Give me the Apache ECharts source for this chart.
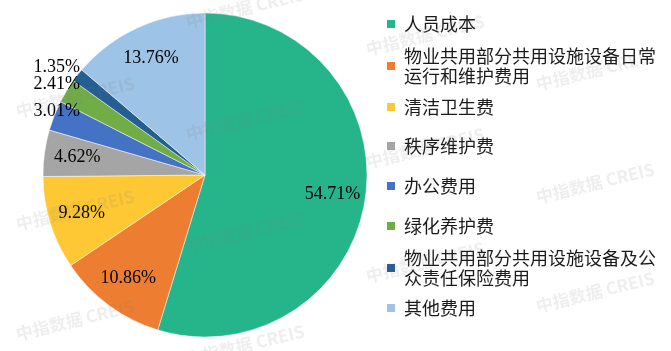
<!DOCTYPE html>
<html>
<head>
<meta charset="utf-8">
<script src="https://cdn.jsdelivr.net/npm/echarts@6/dist/echarts.min.js"></script>
<style>html,body{margin:0;padding:0;background:#fff;}#main{width:671px;height:351px;}</style>
</head>
<body>
<div id="main"></div>
<script>
// ---- data ----
var categories = ['人员成本', '物业共用部分共用设施设备日常运行和维护费用', '清洁卫生费', '秩序维护费', '办公费用', '绿化养护费', '物业共用部分共用设施设备及公众责任保险费用', '其他费用'];
var values = [54.71, 10.86, 9.28, 4.62, 3.01, 2.41, 1.35, 13.76];
var colors = ['#26B58B', '#ED7D31', '#FEC834', '#A5A5A5', '#4472C4', '#70AD47', '#255E91', '#9DC3E6'];
var outsideLabel = [false, false, false, false, true, true, true, false];

// ---- layout (style only) ----
var legendTops = [14, 36, 97, 136, 176, 216, 238, 298];
var legendTwoLine = [false, true, false, false, false, false, true, false];

var chart = echarts.init(document.getElementById('main'), null, {renderer: 'canvas'});

var pieData = categories.map(function (n, i) {
  return {name: n, value: values[i], itemStyle: {color: colors[i]}};
});
var labelData = categories.map(function (n, i) {
  var d = {name: n, value: values[i], itemStyle: {color: 'rgba(0,0,0,0)', borderWidth: 0}};
  if (outsideLabel[i]) {
    d.label = {position: 'outside'};
    d.labelLine = {show: false, length: 13, length2: 0};
  }
  return d;
});

var legends = categories.map(function (n, i) {
  return {
    data: [n], orient: 'vertical', left: 385, top: legendTops[i], padding: 0,
    itemWidth: 10, itemHeight: 10, icon: 'rect', selectedMode: false,
    textStyle: {
      fontFamily: 'Noto Sans CJK SC', fontSize: 18, color: '#1a1a1a', lineHeight: 20,
      width: 256, overflow: 'break',
      padding: legendTwoLine[i] ? [20, 0, 0, 3] : [0, 0, 0, 3]
    }
  };
});

// watermark
var wmPos = [[75, 97], [75, 210], [75, 320], [245, 8], [245, 120], [245, 232], [245, 345],
             [425, 35], [425, 148], [425, 262], [595, 70], [595, 183], [595, 292]];
var graphics = wmPos.map(function (p) {
  return {
    type: 'text', x: p[0], y: p[1], rotation: 0.24, z: 100, silent: true,
    style: {text: '中指数据 CREIS', fontFamily: 'Noto Sans CJK SC', fontWeight: 'bold', fontSize: 17,
      fill: 'rgba(120,120,120,0.13)', align: 'center', verticalAlign: 'middle'}
  };
});

chart.setOption({
  animation: false,
  backgroundColor: '#fff',
  legend: legends,
  graphic: graphics,
  series: [
    {
      type: 'pie', center: [205, 175], radius: [0, 162], startAngle: 90, clockwise: true,
      silent: true, label: {show: false}, labelLine: {show: false},
      itemStyle: {borderColor: '#fff', borderWidth: 0.5},
      data: pieData
    },
    {
      type: 'pie', center: [205, 175], radius: [90, 162], startAngle: 90, clockwise: true,
      silent: true, avoidLabelOverlap: false,
      label: {show: true, position: 'inside', fontFamily: 'Liberation Serif', fontSize: 18, color: '#000',
        formatter: function (p) { return p.value.toFixed(2) + '%'; }},
      labelLine: {show: false},
      labelLayout: function (params) {
        if (outsideLabel[params.dataIndex]) {
          return {x: 80, align: 'right'};
        }
        return {};
      },
      data: labelData
    }
  ]
});
</script>
</body>
</html>
